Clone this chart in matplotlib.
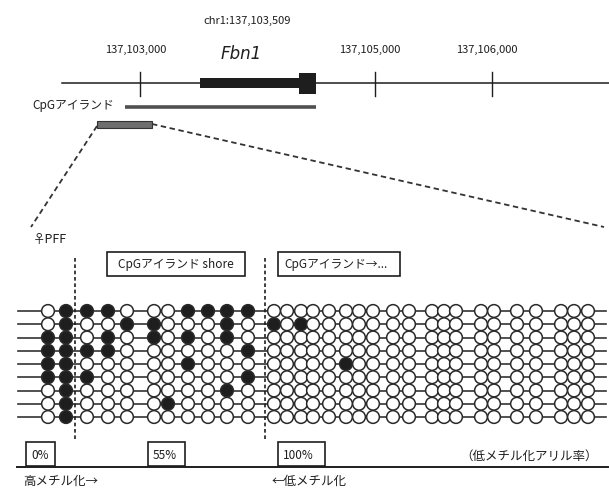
import matplotlib
matplotlib.use('Agg')
import matplotlib.pyplot as plt
from matplotlib.patches import Rectangle

plt.rcParams['font.family'] = ['Noto Sans CJK JP', 'DejaVu Sans']

# --- genome track (bp on chr1) ---
tick_pos = [137103000, 137105000, 137106000]
tick_labels = ['137,103,000', '137,105,000', '137,106,000']
track_start = 137102335
track_end = 137107000
exon = (137103509, 137104355)
exon_last = (137104355, 137104500)
cpg_island = (137102870, 137104500)
site_label = 'chr1:137,103,509'
gene_name = 'Fbn1'

# --- bisulfite clones: 9 alleles x 31 CpG sites (1 = methylated) ---
cpg_x = [48, 66,
         87, 108, 127, 154, 168, 188, 208, 227, 248,
         274, 287, 301, 313, 329, 346, 359, 373, 393, 409,
         432, 444, 456, 481, 494, 517, 536, 561, 574, 588]
meth = [
    '01110001111' + '0' * 20,
    '01001100010' + '101' + '0' * 17,
    '11010101010' + '0' * 20,
    '11110000001' + '0' * 20,
    '11000001000' + '00000' + '1' + '0' * 14,
    '11100000001' + '0' * 20,
    '01000000010' + '0' * 20,
    '01000010000' + '0' * 20,
    '01000000000' + '0' * 20,
]
region_labels = ['CpGアイランド shore', 'CpGアイランド→...']
pct_labels = ['0%', '55%', '100%']

ink = '#1e1e1e'

fig = plt.figure(figsize=(6.09, 4.90), dpi=100)

# full-figure axes in pixel units
ax = fig.add_axes([0, 0, 1, 1])
ax.set_xlim(0, 609)
ax.set_ylim(490, 0)
ax.axis('off')

# genome axes in bp
ax_g = fig.add_axes([0, 1 - 125 / 490, 1, 125 / 490])
ax_g.set_xlim(137101806, 137106998)
ax_g.set_ylim(125, 0)
ax_g.axis('off')

ax_g.plot([track_start, track_end], [83, 83], color=ink, lw=1.1)
for p, lab in zip(tick_pos, tick_labels):
    ax_g.plot([p, p], [72, 96], color=ink, lw=1.0)
    ax_g.text(p - 40, 50, lab, ha='center', va='center', fontsize=8, color=ink)
ax_g.add_patch(Rectangle((exon[0], 78), exon[1] - exon[0], 10, color=ink, lw=0))
ax_g.add_patch(Rectangle((exon_last[0], 73), exon_last[1] - exon_last[0], 21, color=ink, lw=0))
ax_g.text(exon[0] + 400, 21, site_label, ha='center', va='center', fontsize=8, color=ink)
ax_g.text(exon[0] + 350, 54, gene_name, ha='center', va='center', fontsize=12,
          style='italic', family='DejaVu Sans', color=ink)
ax_g.plot(cpg_island, [107, 107], color='#505050', lw=2.6, solid_capstyle='butt')
ax_g.text(137102085, 105, 'CpGアイランド', ha='left', va='center', fontsize=8.5, color=ink)

# zoomed region and connector lines
ax.add_patch(Rectangle((97, 121), 55, 7, facecolor='#6e6e6e', edgecolor='#333333', lw=0.8))
ax.plot([97, 31], [126, 227], color='#333333', lw=1.3, ls=(0, (3, 2)))
ax.plot([152, 604], [124, 227], color='#333333', lw=1.3, ls=(0, (3, 2)))
ax.text(33, 239, '♀PFF', ha='left', va='center', fontsize=9, color=ink)

# region boxes
ax.add_patch(Rectangle((107, 252), 138, 24, fill=False, edgecolor=ink, lw=1.2))
ax.text(176, 264, region_labels[0], ha='center', va='center', fontsize=8.5, color=ink)
ax.add_patch(Rectangle((278, 252), 122, 24, fill=False, edgecolor=ink, lw=1.2))
ax.text(284, 264, region_labels[1], ha='left', va='center', fontsize=8.5, color=ink)

# group separators
for gx in [75, 265]:
    ax.plot([gx, gx], [258, 440], color=ink, lw=1.2, ls=(0, (2.2, 1.6)))

# clones
for i, row in enumerate(meth):
    y = 311 + i * 13.25
    ax.plot([18, 606], [y, y], color='#333333', lw=1.2, zorder=1)
    fc = [ink if c == '1' else 'white' for c in row]
    ax.scatter(cpg_x, [y] * len(cpg_x), s=84, facecolors=fc, edgecolors='#2a2a2a',
               linewidths=1.1, zorder=2)

# percentage boxes and baseline
for (x0, w), lab in zip([(26, 29), (148, 37), (278, 47)], pct_labels):
    ax.add_patch(Rectangle((x0, 442), w, 24, fill=False, edgecolor=ink, lw=1.2))
    ax.text(x0 + 5, 455, lab, ha='left', va='center', fontsize=8.5, color=ink)
ax.plot([17, 608], [467, 467], color=ink, lw=1.4)
ax.text(598, 456, '（低メチル化アリル率）', ha='right', va='center', fontsize=9, color=ink)
ax.text(23, 481, '高メチル化→', ha='left', va='center', fontsize=9, color=ink)
ax.text(272, 481, '←低メチル化', ha='left', va='center', fontsize=9, color=ink)

fig.savefig('out.png', dpi=100)
